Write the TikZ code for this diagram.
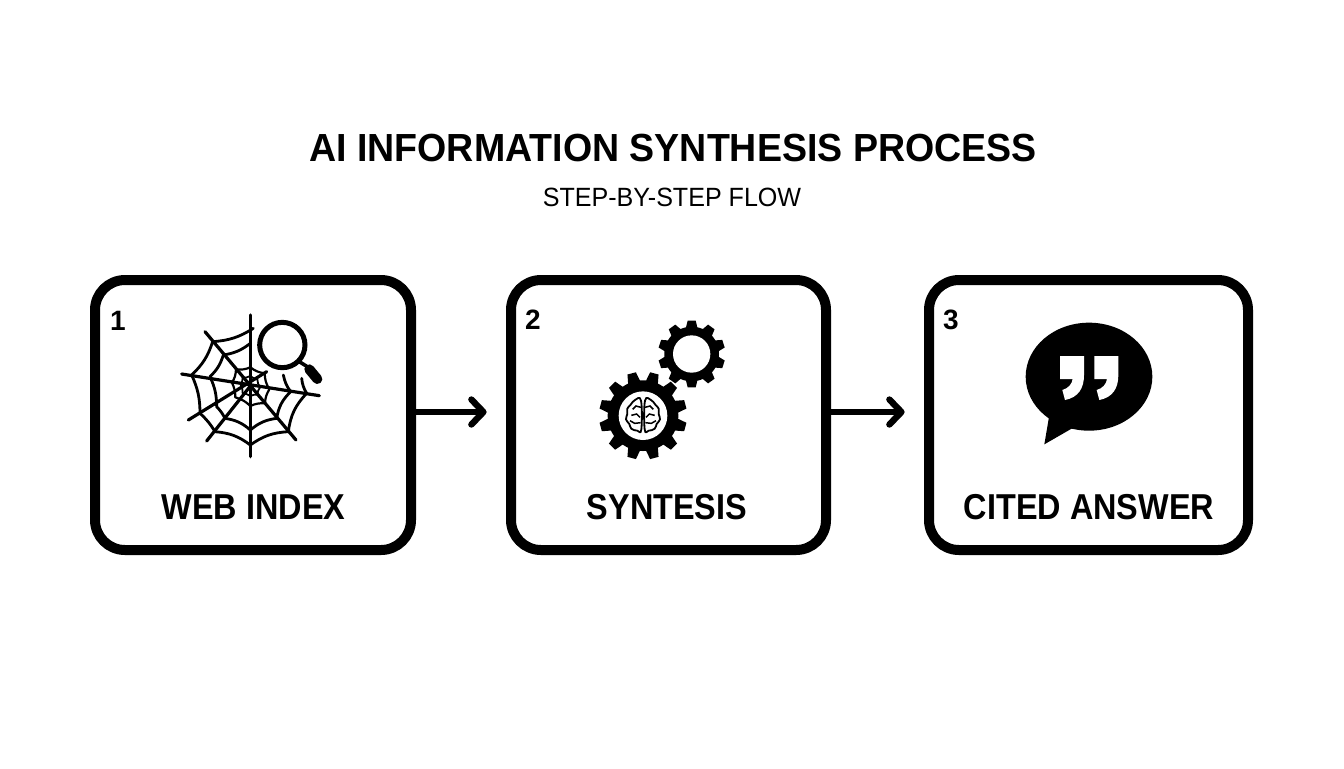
\documentclass[tikz,border=0pt]{standalone}
\usepackage{fontspec}
\setmainfont{Liberation Sans}
\newfontfamily\titlefont[FakeStretch=0.958]{Liberation Sans}
\newfontfamily\labelfont[FakeStretch=0.9]{Liberation Sans}
\newfontfamily\subfont[FakeStretch=0.95]{Liberation Sans}
\usetikzlibrary{arrows.meta}
\tikzset{
  stepbox/.style={draw=black,line width=5pt,rounded corners=15pt,minimum width=158pt,minimum height=135pt,outer sep=0pt,inner sep=0pt},
  flow/.style={draw=black,line width=3.2pt,-{Straight Barb[length=6pt,width=12.5pt,line width=3.2pt,round]},line cap=round,shorten >=12.2pt},
  steplabel/.style={font=\fontsize{18}{20}\selectfont\labelfont\bfseries,inner sep=0pt},
  stepnum/.style={font=\fontsize{14}{16}\selectfont\bfseries,inner sep=0pt},
  web/.style={line width=1.6pt,line cap=round,line join=round},
  webring/.style={line width=1.4pt,line cap=round,line join=round},
  zoomed/.style={x=0.16667pt,y=-0.16667pt}
}
\newcommand{\gearpath}[6]{% cx cy rootr outr n start
  \fill[black] ([shift={(#1,#2)}]{#6-0.5*360/#5}:#3)
  \foreach \i [evaluate=\i as \aa using #6+\i*360/#5-0.33*360/#5,
               evaluate=\i as \ab using #6+\i*360/#5-0.19*360/#5,
               evaluate=\i as \ac using #6+\i*360/#5+0.19*360/#5,
               evaluate=\i as \ad using #6+\i*360/#5+0.33*360/#5,
               evaluate=\i as \ae using #6+\i*360/#5+0.5*360/#5] in {0,...,#5}{
    -- ([shift={(#1,#2)}]\aa:#3)
    -- ([shift={(#1,#2)}]\ab:#4)
    -- ([shift={(#1,#2)}]\ac:#4)
    -- ([shift={(#1,#2)}]\ad:#3)
    -- ([shift={(#1,#2)}]\ae:#3)
  } -- cycle;
}
\begin{document}
\begin{tikzpicture}[x=0.5pt,y=-0.5pt]
\useasboundingbox (0,0) rectangle (1344,768);
\fill[white] (0,0) rectangle (1344,768);

\node[inner sep=0pt,font=\fontsize{19.6}{22}\selectfont\titlefont\bfseries] (title) at (673,148) {AI INFORMATION SYNTHESIS PROCESS};
\node[inner sep=0pt,font=\fontsize{13.2}{15}\selectfont\subfont] (subtitle) at (672,197) {STEP-BY-STEP FLOW};

\node[stepbox] (b1) at (253,415) {};
\node[stepbox,minimum width=157.5pt] (b2) at (668.5,415) {};
\node[stepbox,minimum width=159.5pt] (b3) at (1088.5,415) {};

\draw[flow] ([yshift=1.5pt]b1.east) -- ([yshift=1.5pt]b2.west);
\draw[flow] ([yshift=1.5pt]b2.east) -- ([yshift=1.5pt]b3.west);

\node[stepnum] (n1) at (118,321) {1};
\node[stepnum] (n2) at (533,320) {2};
\node[stepnum] (n3) at (951,320) {3};

\node[steplabel] (l1) at (253.5,507) {WEB INDEX};
\node[steplabel] (l2) at (667,507) {SYNTESIS};
\node[steplabel] (l3) at (1089,507) {CITED ANSWER};

% web icon
\begin{scope}[shift={(170,310)},zoomed]
  \draw[web] (241,15)--(241,440);
  \draw[web] (35,192)--(448,257);
  \draw[web] (105,65)--(378,390);
  \draw[web] (55,330)--(290,185);
  \draw[web] (110,393)--(241,228);
  % outer ring
  \draw[webring] (250,55) to[bend left=14] (128,95) to[bend left=14] (65,195)
     to[bend left=12] (90,310) to[bend left=8] (135,365) to[bend left=16] (241,405)
     to[bend left=16] (355,365) to[bend left=18] (410,250) to[bend left=12] (395,205);
  % middle ring
  \draw[webring] (241,100) to[bend left=14] (160,135) to[bend left=14] (120,200)
     to[bend left=12] (140,290) to[bend left=8] (165,325) to[bend left=16] (241,360)
     to[bend left=16] (320,325) to[bend left=18] (362,245) to[bend left=12] (340,195);
  % inner rings
  \draw[webring,line width=1.1pt] (241,172) to[bend left=14] (198,178) to[bend left=14] (186,218)
     to[bend left=12] (196,262) to[bend left=14] (241,288) to[bend left=14] (285,280)
     to[bend left=14] (298,238) to[bend left=14] (284,190) to[bend left=14] (241,172);
  \draw[webring,line width=0.9pt] (241,198) to[bend left=14] (218,203) to[bend left=14] (212,224)
     to[bend left=14] (218,250) to[bend left=14] (241,258) to[bend left=14] (262,254)
     to[bend left=14] (270,232) to[bend left=14] (262,208) to[bend left=14] (241,198);
  % magnifier
  \draw[line width=2.5pt,fill=white] (337,105) circle (68);
  \draw[line width=1.8pt] (388,155)--(415,172);
  \draw[line width=5pt,line cap=round] (418,178)--(442,207);
\end{scope}

% gears
\begin{scope}[shift={(590,310)},zoomed]
  \gearpath{305}{132}{82}{101}{10}{90}
  \fill[white] (305,132) circle (56);
  \gearpath{159}{317}{106}{132}{12}{15}
  \fill[white] (159,317) circle (73);
  \draw[line width=0.9pt,line join=round]
    plot[smooth cycle,tension=0.7] coordinates {(153,272)(135,270)(122,284)(112,296)(112,312)(108,328)(118,342)(124,356)(142,362)(154,358)}
    plot[smooth cycle,tension=0.7] coordinates {(165,272)(183,270)(196,284)(206,296)(206,312)(210,328)(200,342)(194,356)(176,362)(164,358)};
  \draw[line width=0.75pt]
    (153,292)--(138,288)--(128,298) (124,316)--(140,312)--(150,322) (120,332)--(134,340)--(152,338)
    (165,292)--(180,288)--(190,298) (194,316)--(178,312)--(168,322) (198,332)--(184,340)--(166,338);
\end{scope}

% bubble
\begin{scope}[shift={(1010,310)},zoomed]
  \fill[black] (237,200) ellipse [x radius=190,y radius=162];
  \fill[black] (118,315) -- (103,403) -- (195,350) -- cycle;
  \foreach \dx in {0,103}{
    \fill[white,shift={(\dx,0)}] (150,138) -- (222,138) -- (222,195)
      .. controls (222,235) and (205,262) .. (165,270) -- (157,240)
      .. controls (175,235) and (186,222) .. (188,207) -- (150,207) -- cycle;
  }
\end{scope}
\end{tikzpicture}
\end{document}
